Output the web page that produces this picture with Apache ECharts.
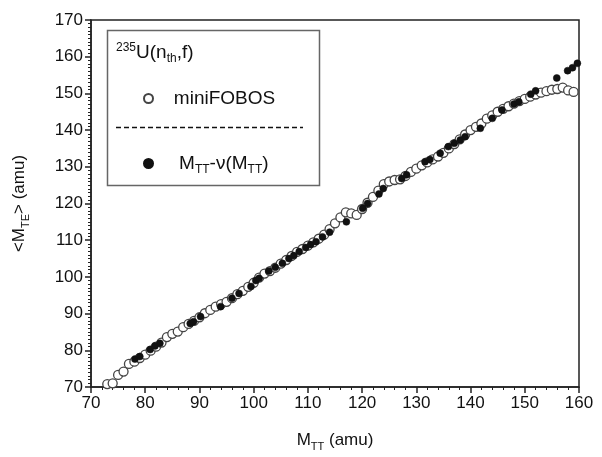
<!DOCTYPE html>
<html>
<head>
<meta charset="utf-8">
<script src="https://cdn.jsdelivr.net/npm/echarts@6/dist/echarts.min.js"></script>
<style>html,body{margin:0;padding:0;background:#fff}#c{width:602px;height:457px}</style>
</head>
<body>
<div id="c"></div>
<script>
// miniFOBOS (open circles)
const openX = [73,74,75,76,77,78,79,80,81,82,83,84,85,86,87,88,89,90,91,92,93,94,95,96,97,98,99,100,101,102,103,104,105,106,107,108,109,110,111,112,113,114,115,116,117,118,119,120,121,122,123,124,125,126,127,128,129,130,131,132,133,134,135,136,137,138,139,140,141,142,143,144,145,146,147,148,149,150,151,152,153,154,155,156,157,158,159];
const openY = [70.8,71.0,73.3,74.2,76.3,76.9,77.9,78.8,79.9,81.0,82.1,83.6,84.5,85.1,86.3,87.2,88.0,89.0,90.1,91.0,91.9,92.6,93.2,94.2,95.3,96.2,97.3,98.4,99.8,100.9,101.6,102.5,103.6,104.6,105.7,106.8,107.6,108.5,109.4,110.4,111.5,113.0,114.6,116.2,117.6,117.3,116.9,118.5,120.2,121.8,123.5,125.3,126.0,126.4,126.6,127.5,128.6,129.5,130.4,131.2,132.0,132.8,133.8,135.0,136.2,137.5,138.8,140.0,140.9,141.8,143.1,144.0,145.0,145.8,146.5,147.2,147.9,148.5,149.1,149.7,150.2,150.6,151.0,151.2,151.6,150.8,150.4];
// M_TT - nu(M_TT) (filled dots)
const fillX = [78.1,79.0,80.9,81.8,82.7,88.3,88.9,90.2,93.9,96.0,97.3,99.5,100.4,101.0,102.8,104.0,105.3,106.5,107.4,108.4,109.6,110.5,111.5,112.7,114.0,117.1,120.1,121.0,123.1,123.9,127.3,128.2,131.6,132.5,134.4,135.9,137.0,138.1,139.0,141.8,144.0,145.8,148.0,148.9,151.1,152.0,155.9,157.9,158.8,159.7];
const fillY = [77.6,78.3,80.2,81.2,81.9,87.3,87.8,89.2,91.9,94.2,95.5,97.4,99.0,99.6,101.6,102.6,103.7,105.0,105.8,106.9,108.0,108.8,109.6,110.9,112.2,115.0,118.7,120.0,122.6,124.1,126.8,127.8,131.4,132.0,133.7,135.5,136.4,137.3,138.2,140.5,143.2,145.5,147.1,147.7,149.8,150.7,154.2,156.2,157.0,158.2];
const xTicks = [70,80,90,100,110,120,130,140,150,160];
const yTicks = [70,80,90,100,110,120,130,140,150,160,170];

const openData = openX.map((x,i)=>[x,openY[i]]);
const fillData = fillX.map((x,i)=>[x,fillY[i]]);

const FONT = 'Liberation Sans';
const chart = echarts.init(document.getElementById('c'));
const axisCommon = {
  axisLine:{show:true,onZero:false,lineStyle:{color:'#222',width:1.5}},
  axisTick:{show:true,inside:false,length:6,lineStyle:{color:'#222',width:1.5}},
  minorTick:{show:true,length:3,lineStyle:{color:'#222',width:1}},
  splitLine:{show:false},
  axisLabel:{color:'#111',fontFamily:FONT,fontSize:17,margin:8},
  nameTextStyle:{color:'#111',fontFamily:FONT,fontSize:17}
};
chart.setOption({
  animation:false,
  backgroundColor:'#fff',
  grid:{left:91,right:23,top:20,bottom:70,show:true,borderColor:'#222',borderWidth:1.5,containLabel:false},
  xAxis:Object.assign({},axisCommon,{
    type:'value',min:xTicks[0],max:xTicks[xTicks.length-1],interval:10,
    minorTick:Object.assign({},axisCommon.minorTick,{splitNumber:5}),
    name:'M{s|TT} (amu)',nameLocation:'middle',nameGap:42,
    nameTextStyle:{color:'#111',fontFamily:FONT,fontSize:17,rich:{s:{fontFamily:FONT,fontSize:11,padding:[12,0,0,0],color:'#111'}}}
  }),
  yAxis:Object.assign({},axisCommon,{
    type:'value',min:yTicks[0],max:yTicks[yTicks.length-1],interval:10,
    minorTick:Object.assign({},axisCommon.minorTick,{splitNumber:10}),
    name:'<M{s|TE}> (amu)',nameLocation:'middle',nameGap:60,nameRotate:90,
    nameTextStyle:{color:'#111',fontFamily:FONT,fontSize:17,rich:{s:{fontFamily:FONT,fontSize:11,padding:[12,0,0,0],color:'#111'}}}
  }),
  legend:{
    show:true,orient:'vertical',left:138,top:84,itemGap:46,itemWidth:9,itemHeight:9,
    data:[{name:'miniFOBOS',icon:'circle'},{name:'MTT-nu',icon:'circle'}],
    formatter:function(n){return n==='miniFOBOS'?'   miniFOBOS':'    M{s|TT}-ν(M{s|TT})';},
    textStyle:{color:'#111',fontFamily:FONT,fontSize:19,rich:{s:{fontFamily:FONT,fontSize:12,padding:[12,0,0,0],color:'#111'}}}
  },
  graphic:[
    {type:'rect',left:105,top:28,shape:{width:212,height:155},style:{fill:'none',stroke:'#666',lineWidth:1.5},z:100},
    {type:'text',left:116,top:42,style:{text:'{p|235}U(n{s|th},f)',fill:'#111',font:'19px Liberation Sans',
      rich:{p:{fontSize:12,fontFamily:FONT,padding:[0,0,10,0],fill:'#111'},s:{fontSize:12,fontFamily:FONT,padding:[12,0,0,0],fill:'#111'}}},z:100},
    {type:'line',shape:{x1:116,y1:127.5,x2:303,y2:127.5},style:{stroke:'#111',lineWidth:1.5,lineDash:[5,3]},z:100}
  ],
  series:[
    {name:'miniFOBOS',type:'scatter',data:openData,symbol:'circle',symbolSize:9,
     itemStyle:{color:'#fff',borderColor:'#444',borderWidth:1.3,opacity:1},z:2},
    {name:'MTT-nu',type:'scatter',data:fillData,symbol:'circle',symbolSize:7,
     itemStyle:{color:'#111',borderColor:'#111',borderWidth:0.5,opacity:1},z:3}
  ]
});
</script>
</body>
</html>
